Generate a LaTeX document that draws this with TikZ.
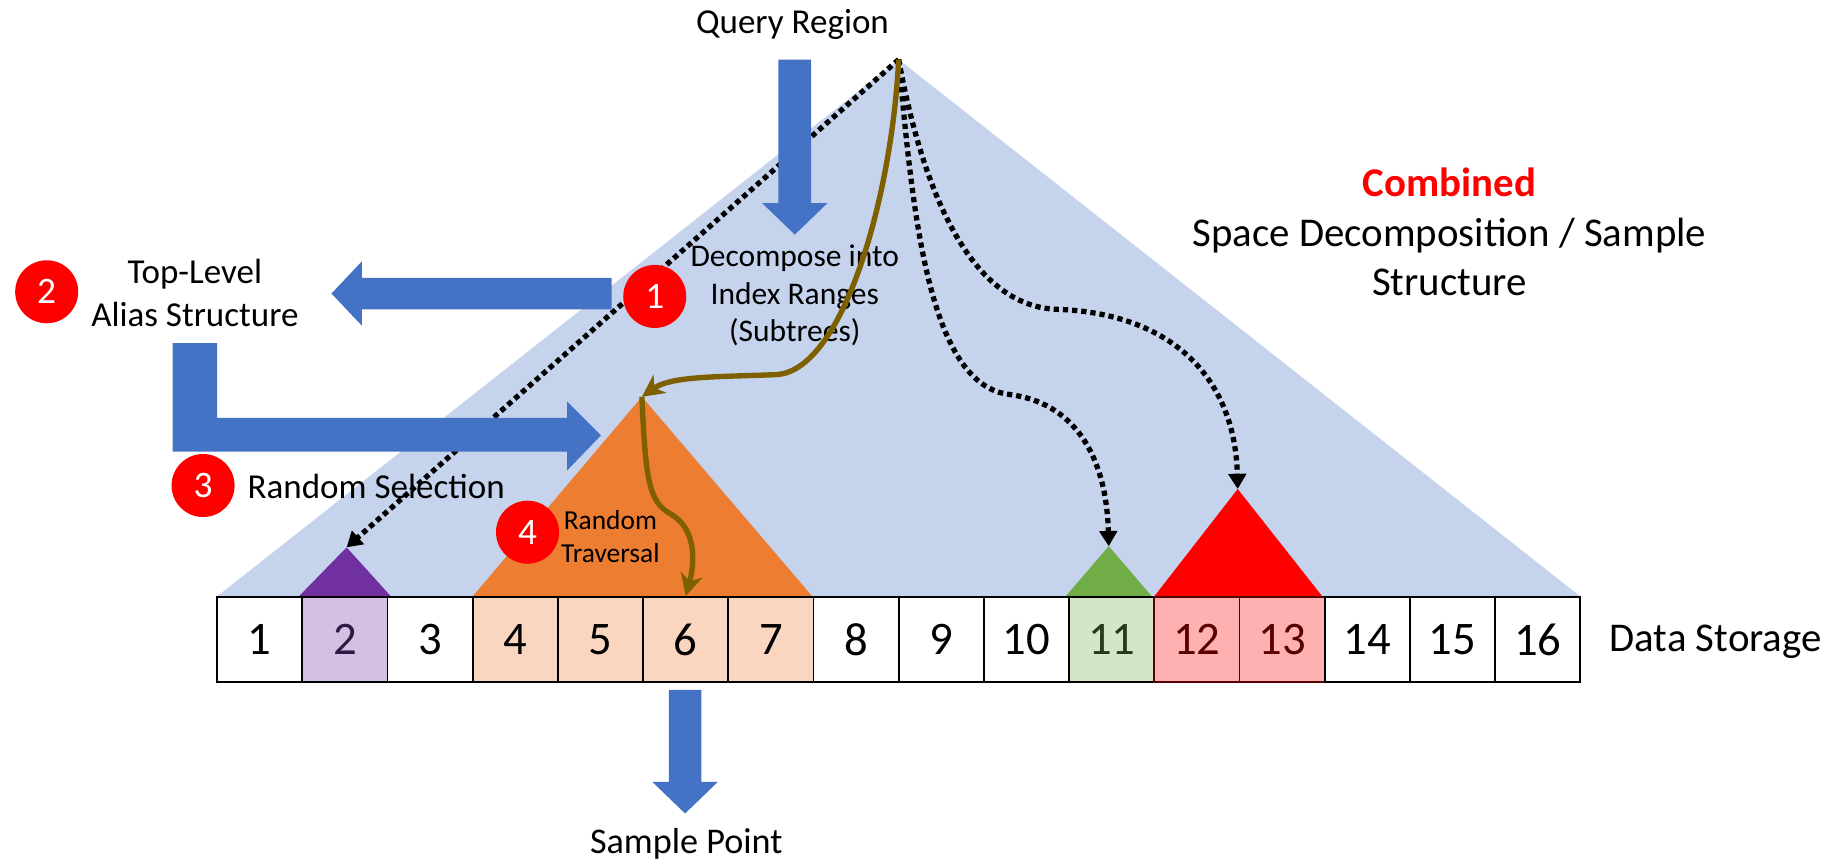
\documentclass[tikz,border=0pt]{standalone}
\usepackage{fontspec}
\setmainfont{Carlito}
\usetikzlibrary{arrows.meta}
\definecolor{triblue}{HTML}{C5D3EC}
\definecolor{arrblue}{HTML}{4472C4}
\definecolor{torange}{HTML}{ED7D31}
\definecolor{tpurple}{HTML}{7030A0}
\definecolor{tgreen}{HTML}{70AD47}
\definecolor{cpurple}{HTML}{D4C0E3}
\definecolor{cpeach}{HTML}{FAD6C0}
\definecolor{cgreen}{HTML}{D5E5C9}
\definecolor{cpink}{HTML}{FFB1B1}
\definecolor{brownline}{HTML}{7F6000}
\definecolor{darkred}{HTML}{5A0000}
\definecolor{darkpurple}{HTML}{2B1A44}
\definecolor{darkgreen}{HTML}{283A1A}
\begin{document}
\begin{tikzpicture}[x=1pt,y=-1pt,
  txt/.style={inner sep=0pt, anchor=base},
  fa/.style={font=\fontsize{30}{36}\selectfont},
  fs/.style={font=\fontsize{31}{37}\selectfont},
  fb/.style={font=\fontsize{27}{32}\selectfont},
  fc/.style={font=\fontsize{23.5}{28}\selectfont},
  fd/.style={font=\fontsize{35}{42}\selectfont},
  cell/.style={draw, line width=1.5pt, minimum width=73pt, minimum height=73pt, inner sep=0pt, font=\fontsize{40}{48}\selectfont},
  numcirc/.style={circle, fill=red, minimum size=54pt, inner sep=0pt, text=white, font=\fontsize{32}{38}\selectfont},
  dotarr/.style={line width=4.5pt, dash pattern=on 4.5pt off 3.4pt, -{Triangle[length=13pt,width=15pt]}},
  brownarr/.style={draw=brownline, line width=4.6pt, -{Stealth[length=19pt,width=19pt,inset=6pt]}},
  blockarrow/.style={fill=arrblue}
]
\useasboundingbox (0,0) rectangle (1568,736);

% apex coordinates
\coordinate (apex) at (770,51);
\coordinate (papex) at (297,469);
\coordinate (oapex) at (550,340);
\coordinate (gapex) at (950,468);
\coordinate (rapex) at (1060.5,419);

% triangles
\fill[triblue] (186,511) -- (1354,511) -- (apex) -- cycle;
\fill[tpurple] (256,511) -- (335,511) -- (papex) -- cycle;
\fill[torange] (405,511) -- (696,511) -- (oapex) -- cycle;
\fill[tgreen] (913,511) -- (987,511) -- (gapex) -- cycle;
\fill[red] (989,511) -- (1133,511) -- (rapex) -- cycle;

% storage cells
\foreach \i/\fcol/\tcol/\dcol in {1/white/black/black, 2/cpurple/darkpurple/black, 3/white/black/black,
  4/cpeach/black/black, 5/cpeach/black/black, 6/cpeach/black/black, 7/cpeach/black/black,
  8/white/black/black, 9/white/black/black, 10/white/black/black, 11/cgreen/darkgreen/black,
  12/cpink/darkred/darkred, 13/cpink/darkred/darkred, 14/white/black/black, 15/white/black/black, 16/white/black/black} {
  \node[cell, fill=\fcol, text=\tcol, draw=\dcol] (d\i) at ({186+73*\i-36.5},548) {\i};
}

% dotted connectors
\draw[dotarr] (apex) -- (papex);
\draw[dotarr] (apex) .. controls (782,180) and (795,330) .. (865,338) .. controls (920,345) and (948,390) .. (gapex);
\draw[dotarr] (apex) .. controls (790,160) and (830,262) .. (905,265) .. controls (1000,268) and (1058,320) .. (rapex);

% texts
\node[txt, fa] (qr) at (679,28.5) {Query Region};
\node[txt, fa] (tl1) at (167,243) {Top-Level};
\node[txt, fa] (tl2) at (167,280) {Alias Structure};
\node[txt, fb] (dc1) at (681,228.5) {Decompose into};
\node[txt, fb] (dc2) at (681,261) {Index Ranges};
\node[txt, fb] (dc3) at (681,293) {(Subtrees)};
\node[txt, fa, anchor=base west] (rs) at (212,427) {Random Selection};
\node[txt, fc] (rt1) at (523,454) {Random};
\node[txt, fc] (rt2) at (523,481.6) {Traversal};
\node[txt, fs] (sp) at (588,731) {Sample Point};
\node[txt, fd, anchor=base west] (ds) at (1379,558.5) {Data Storage};
\node[txt, fd, text=red] (cb) at (1242,168.5) {\textbf{Combined}};
\node[txt, fd] (sd1) at (1242,211.5) {Space Decomposition / Sample};
\node[txt, fd] (sd2) at (1242,253) {Structure};

% block arrows
\fill[blockarrow] (667,51) -- (695,51) -- (695,174) -- (709,174) -- (681,201) -- (653,174) -- (667,174) -- cycle;
\fill[blockarrow] (524,238) -- (310,238) -- (310,224) -- (284,251.5) -- (310,279) -- (310,265) -- (524,265) -- cycle;
\fill[blockarrow] (148,294) -- (186,294) -- (186,358) -- (486,358) -- (486,344) -- (515,373) -- (486,403) -- (486,387) -- (148,387) -- cycle;
\fill[blockarrow] (573,591) -- (601,591) -- (601,670) -- (615,670) -- (587,697) -- (559,670) -- (573,670) -- cycle;

% brown traversal curves
\draw[brownarr] (apex) .. controls (764,170) and (722,318) .. (665,321) .. controls (615,323) and (575,322) .. (oapex);
\draw[brownarr] (oapex) .. controls (553,410) and (556,430) .. (574,440) .. controls (596,452) and (596,480) .. (d6.north);

% numbered circles
\node[numcirc] (c1) at (561,254) {1};
\node[numcirc] (c2) at (40,250) {2};
\node[numcirc] (c3) at (174,416) {3};
\node[numcirc] (c4) at (452,456) {4};
\end{tikzpicture}
\end{document}
